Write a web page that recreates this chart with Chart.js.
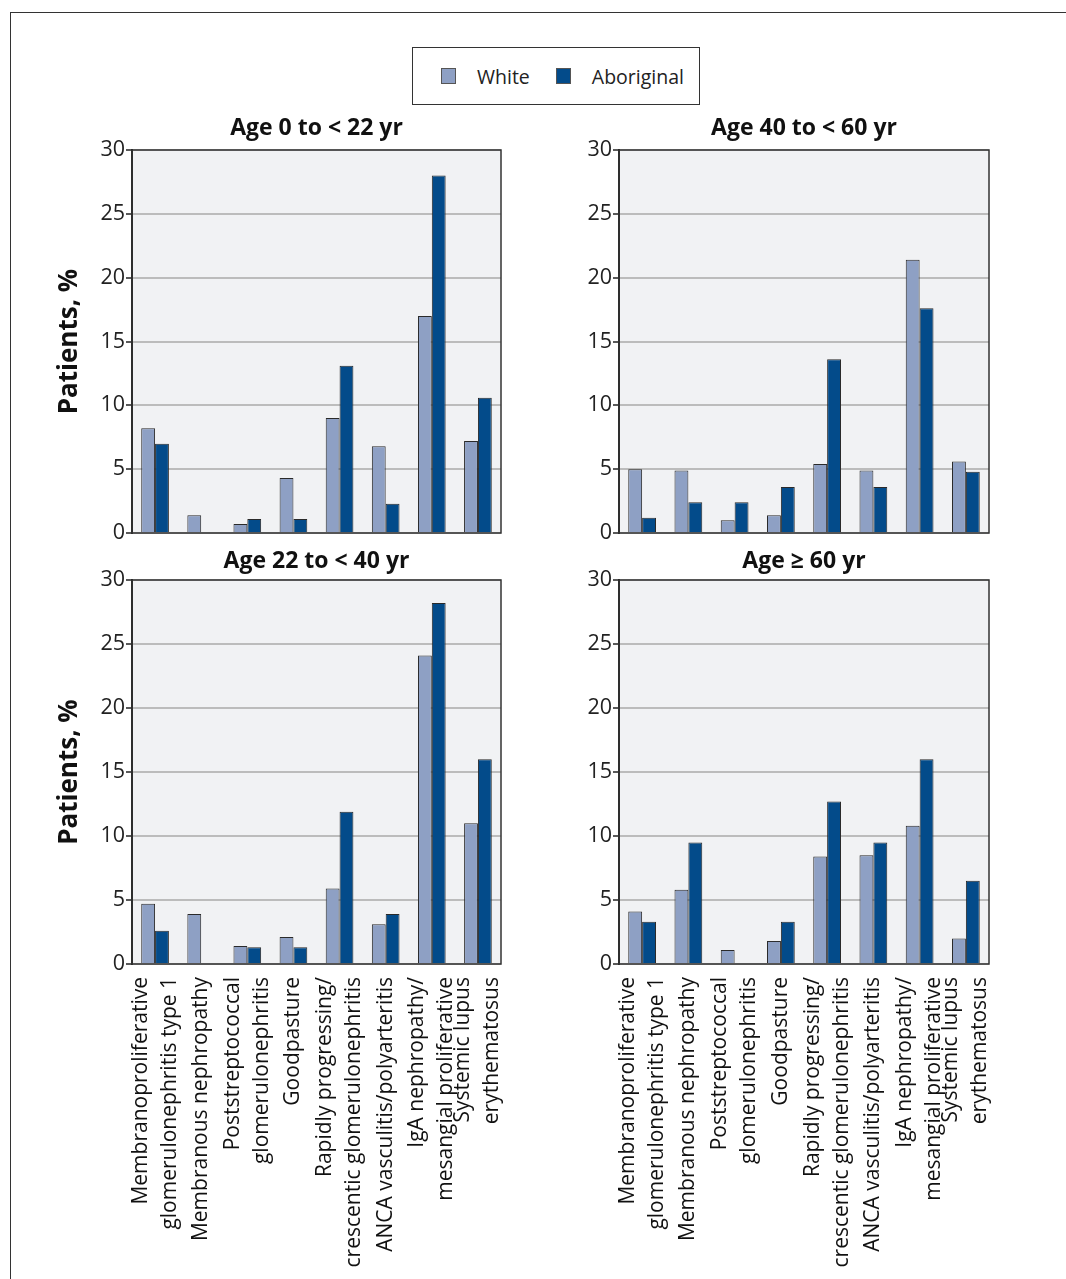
<!DOCTYPE html>
<html>
<head>
<meta charset="utf-8">
<script src="https://cdn.jsdelivr.net/npm/chart.js@4.4.1/dist/chart.umd.min.js"></script>
<style>
  body { margin: 0; background: #fff; font-family: "Open Sans", sans-serif; }
  #page { position: relative; width: 1066px; height: 1279px; overflow: hidden; }
  #frame { position: absolute; left: 10px; top: 12px; right: -5px; bottom: -5px;
           border-top: 1.5px solid #333; border-left: 1.5px solid #333; }
  #legend { position: absolute; left: 412px; top: 47px; width: 288px; height: 58px;
            box-sizing: border-box; border: 1.5px solid #333; display: flex;
            align-items: center; padding-left: 28px; font-size: 19.5px; color: #222; }
  .item { display: flex; align-items: center; margin-right: 26px; }
  .swatch { width: 15px; height: 16px; margin-right: 21px; box-sizing: border-box; border: 1px solid #555; }
  .panel { position: absolute; }
</style>
</head>
<body>
<div id="page">
  <div id="frame"></div>
  <div id="legend"></div>
</div>
<script>
// Categories (x axis)
const categories = [
  ['Membranoproliferative', 'glomerulonephritis type 1'],
  'Membranous nephropathy',
  ['Poststreptococcal', 'glomerulonephritis'],
  'Goodpasture',
  ['Rapidly progressing/', 'crescentic glomerulonephritis'],
  'ANCA vasculitis/polyarteritis',
  ['IgA nephropathy/', 'mesangial proliferative'],
  ['Systemic lupus', 'erythematosus']
];

const seriesNames = ['White', 'Aboriginal'];
const seriesColors = ['#8ea0c4', '#034b8a'];

// Percent of patients
const white0to22 = [8.2, 1.4, 0.7, 4.3, 9.0, 6.8, 17.0, 7.2];
const aboriginal0to22 = [7.0, 0, 1.1, 1.1, 13.1, 2.3, 28.0, 10.6];

const white40to60 = [5.0, 4.9, 1.0, 1.4, 5.4, 4.9, 21.4, 5.6];
const aboriginal40to60 = [1.2, 2.4, 2.4, 3.6, 13.6, 3.6, 17.6, 4.8];

const white22to40 = [4.7, 3.9, 1.4, 2.1, 5.9, 3.1, 24.1, 11.0];
const aboriginal22to40 = [2.6, 0, 1.3, 1.3, 11.9, 3.9, 28.2, 16.0];

const white60 = [4.1, 5.8, 1.1, 1.8, 8.4, 8.5, 10.8, 2.0];
const aboriginal60 = [3.3, 9.5, 0, 3.3, 12.7, 9.5, 16.0, 6.5];

const yTicks = [0, 5, 10, 15, 20, 25, 30];
const yTitle = 'Patients, %';

const fontFamily = '"Open Sans", sans-serif';

// Legend
const legend = document.getElementById('legend');
seriesNames.forEach((name, i) => {
  legend.innerHTML += `<div class="item"><div class="swatch" style="background:${seriesColors[i]}"></div>${name}</div>`;
});

// plot background + frame
const framePlugin = {
  id: 'frame',
  beforeDraw(chart) {
    const a = chart.chartArea, ctx = chart.ctx;
    ctx.save();
    ctx.fillStyle = '#f1f2f4';
    ctx.fillRect(a.left, a.top, a.right - a.left, a.bottom - a.top);
    ctx.restore();
  },
  afterDraw(chart) {
    const a = chart.chartArea, ctx = chart.ctx;
    ctx.save();
    ctx.strokeStyle = '#333';
    ctx.lineWidth = 1.5;
    ctx.strokeRect(a.left, a.top, a.right - a.left, a.bottom - a.top);
    ctx.restore();
  }
};

// rotated category labels, lines centred on each tick
const xLabelPlugin = {
  id: 'xLabels',
  afterDraw(chart, args, pluginOpts) {
    if (!pluginOpts.show) return;
    const scale = chart.scales.x, ctx = chart.ctx;
    const lineGap = 29;
    ctx.save();
    ctx.fillStyle = '#111';
    ctx.font = '21px ' + fontFamily;
    ctx.textAlign = 'right';
    ctx.textBaseline = 'middle';
    categories.forEach((label, i) => {
      const lines = Array.isArray(label) ? label : [label];
      const x = scale.getPixelForTick(i);
      lines.forEach((line, j) => {
        const off = (j - (lines.length - 1) / 2) * lineGap;
        ctx.save();
        ctx.translate(x + off, scale.top + 13);
        ctx.rotate(-Math.PI / 2);
        ctx.fillText(line, 0, 0);
        ctx.restore();
      });
    });
    ctx.restore();
  }
};

function makePanel(opts) {
  const div = document.createElement('div');
  div.className = 'panel';
  div.style.left = opts.left + 'px';
  div.style.top = opts.top + 'px';
  const canvas = document.createElement('canvas');
  canvas.width = opts.width;
  canvas.height = opts.height;
  div.appendChild(canvas);
  document.getElementById('page').appendChild(div);

  new Chart(canvas.getContext('2d'), {
    type: 'bar',
    data: {
      labels: categories,
      datasets: [
        { label: seriesNames[0], data: opts.white, backgroundColor: seriesColors[0] },
        { label: seriesNames[1], data: opts.aboriginal, backgroundColor: seriesColors[1] }
      ]
    },
    options: {
      responsive: false,
      animation: false,
      devicePixelRatio: 1,
      layout: { padding: { right: 4, bottom: opts.padBottom } },
      datasets: {
        bar: {
          borderColor: '#2a2a2a',
          borderWidth: 1,
          categoryPercentage: 0.6,
          barPercentage: 1.0
        }
      },
      plugins: {
        legend: { display: false },
        tooltip: { enabled: false },
        xLabels: { show: opts.showX },
        title: {
          display: true,
          fullSize: false,
          text: opts.title,
          color: '#111',
          font: { family: fontFamily, size: 23, weight: 'bold' },
          padding: { top: opts.titleTop, bottom: 40 - 27.6 - opts.titleTop }
        }
      },
      scales: {
        x: {
          grid: { display: false, drawTicks: false },
          border: { display: false },
          ticks: { display: false },
          afterFit(scale) {
            scale.height = opts.xHeight;
            scale.paddingLeft = 0; scale.paddingRight = 0;
          }
        },
        y: {
          min: 0,
          max: 30,
          afterBuildTicks(scale) { scale.ticks = yTicks.map(v => ({ value: v })); },
          grid: { color: '#bcbcbc', lineWidth: 2, tickColor: '#222', tickLength: 6, tickWidth: 1.5 },
          border: { color: '#222', width: 2 },
          ticks: {
            padding: 1,
            color: '#222',
            font: { family: fontFamily, size: 21.5 }
          },
          title: {
            display: opts.showYTitle,
            text: yTitle,
            color: '#111',
            font: { family: fontFamily, size: 26, weight: 'bold' },
            padding: { top: 14, bottom: 0 }
          },
          afterFit(scale) {
            scale.width = 92;
            scale.paddingTop = 0; scale.paddingBottom = 0;
          }
        }
      }
    },
    plugins: [framePlugin, xLabelPlugin]
  });
}

makePanel({ title: 'Age 0 to < 22 yr', white: white0to22, aboriginal: aboriginal0to22,
  left: 40, top: 110, width: 465, height: 437, padBottom: 14, xHeight: 0, titleTop: 5, showX: false, showYTitle: true });
makePanel({ title: 'Age 40 to < 60 yr', white: white40to60, aboriginal: aboriginal40to60,
  left: 527, top: 110, width: 466, height: 437, padBottom: 14, xHeight: 0, titleTop: 5, showX: false, showYTitle: false });
makePanel({ title: 'Age 22 to < 40 yr', white: white22to40, aboriginal: aboriginal22to40,
  left: 40, top: 540, width: 465, height: 739, padBottom: 0, xHeight: 315, titleTop: 8, showX: true, showYTitle: true });
makePanel({ title: 'Age \u2265 60 yr', white: white60, aboriginal: aboriginal60,
  left: 527, top: 540, width: 466, height: 739, padBottom: 0, xHeight: 315, titleTop: 8, showX: true, showYTitle: false });
</script>
</body>
</html>
